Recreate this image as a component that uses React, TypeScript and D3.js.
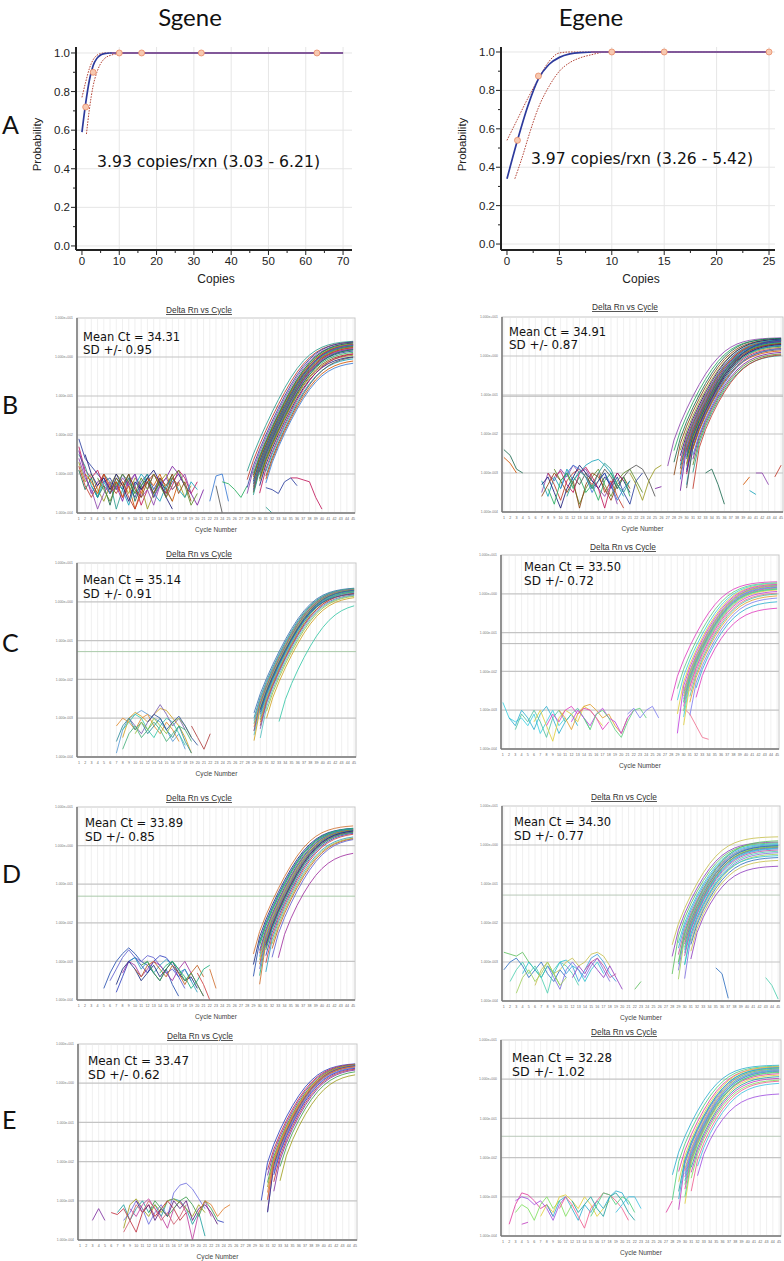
import React from "react";
import * as d3 from "d3";

const WIDTH = 784;
const HEIGHT = 1261;

// ---------------- Panel A data (probit / detection probability) ----------------
const sgeneHitCopies = [1, 3, 10, 16, 32, 63];
const sgeneHitRate = [0.72, 0.9, 1, 1, 1, 1];
const sgeneFit: [number, number][] = [[0, 0.59], [1, 0.74], [2, 0.86], [3, 0.935], [4, 0.972], [5, 0.99], [6, 0.997], [7.5, 1], [70, 1]];
const sgeneUpper: [number, number][] = [[0, 0.77], [1, 0.85], [2, 0.92], [3, 0.965], [4, 0.988], [5, 0.997], [6, 1], [70, 1]];
const sgeneLower: [number, number][] = [[1.2, 0.58], [2, 0.71], [3, 0.83], [4, 0.9], [5, 0.945], [6, 0.97], [8, 0.99], [10, 0.997], [13, 1], [70, 1]];
const sgeneXTicks = [0, 10, 20, 30, 40, 50, 60, 70];

const egeneHitCopies = [1, 3, 10, 15, 25];
const egeneHitRate = [0.54, 0.875, 1, 1, 1];
const egeneFit: [number, number][] = [[0, 0.34], [1, 0.54], [2, 0.72], [3, 0.86], [4, 0.935], [5, 0.972], [6, 0.99], [7, 0.997], [8.5, 1], [25, 1]];
const egeneUpper: [number, number][] = [[0, 0.54], [1, 0.65], [2, 0.76], [3, 0.86], [4, 0.95], [5, 0.995], [6, 1], [25, 1]];
const egeneLower: [number, number][] = [[0.75, 0.34], [1.5, 0.46], [2, 0.55], [3, 0.71], [4, 0.82], [5, 0.9], [6, 0.945], [7, 0.97], [8, 0.985], [9.5, 1], [25, 1]];
const egeneXTicks = [0, 5, 10, 15, 20, 25];

const probTicks = [0, 0.2, 0.4, 0.6, 0.8, 1.0];

// ---------------- Amplification plots ----------------
const cycles = d3.range(1, 46);
const decadeValues = [1e1, 1, 1e-1, 1e-2, 1e-3, 1e-4];
const decadeLabels = ["1.000e+001", "1.000e+000", "1.000e-001", "1.000e-002", "1.000e-003", "1.000e-004"];

// Ct (visual threshold crossing) and ΔRn reached at cycle 45 for each well
const bLeftCt = [32.4, 32.8, 33.1, 33.3, 33.5, 33.6, 33.7, 33.8, 33.9, 34.0, 34.0, 34.1, 34.2, 34.2, 34.3, 34.3, 34.4, 34.5, 34.5, 34.6, 34.7, 34.8, 34.9, 35.0, 35.2, 35.4, 35.6, 35.8, 36.0, 36.2];
const bLeftPlat = [2.4, 2.3, 2.35, 2.2, 2.1, 2.25, 2.0, 2.1, 1.9, 2.05, 1.8, 1.95, 1.7, 2.0, 1.6, 1.85, 1.5, 1.75, 1.4, 1.6, 1.3, 1.55, 1.2, 1.1, 1.0, 1.2, 0.9, 1.0, 0.8, 0.7];
const bRightCt = [31.0, 31.5, 31.9, 32.2, 32.5, 32.7, 32.9, 33.0, 33.1, 33.2, 33.3, 33.4, 33.5, 33.6, 33.6, 33.7, 33.8, 33.8, 33.9, 34.0, 34.1, 34.2, 34.3, 34.4, 34.5, 34.6, 34.8, 35.0, 35.2, 35.4, 35.6, 34.1];
const bRightPlat = [2.7, 2.6, 2.65, 2.5, 2.4, 2.55, 2.3, 2.45, 2.2, 2.35, 2.1, 2.3, 2.0, 2.4, 1.9, 2.2, 1.8, 2.1, 1.7, 2.0, 1.6, 1.9, 1.5, 1.8, 1.4, 1.3, 1.5, 1.2, 1.1, 1.0, 1.05, 2.5];
const cLeftCt = [33.0, 33.2, 33.3, 33.4, 33.5, 33.6, 33.6, 33.7, 33.8, 33.8, 33.9, 34.0, 34.0, 34.1, 34.2, 34.3, 34.4, 34.5, 34.6, 34.8, 35.0, 35.3, 33.9, 37.5];
const cLeftPlat = [2.15, 2.1, 2.05, 2.1, 2.0, 1.95, 2.05, 1.9, 2.0, 1.85, 1.95, 1.8, 1.9, 1.75, 1.7, 1.8, 1.6, 1.65, 1.5, 1.45, 1.4, 1.3, 1.55, 0.9];
const cRightCt = [31.2, 31.8, 32.2, 32.5, 32.7, 32.9, 33.0, 33.1, 33.2, 33.3, 33.4, 33.5, 33.6, 33.7, 33.8, 34.0, 34.2, 34.4, 34.7, 35.0, 35.5, 33.3];
const cRightPlat = [1.9, 1.8, 1.75, 1.7, 1.65, 1.6, 1.55, 1.5, 1.45, 1.4, 1.35, 1.3, 1.25, 1.2, 1.1, 1.0, 0.95, 0.85, 0.75, 0.6, 0.41, 1.25];
const dLeftCt = [32.4, 32.7, 32.9, 33.1, 33.3, 33.4, 33.5, 33.6, 33.7, 33.8, 33.9, 34.0, 34.0, 34.1, 34.2, 34.3, 34.5, 34.7, 34.9, 35.1, 35.3, 35.6, 33.0, 36.8];
const dLeftPlat = [3.1, 2.7, 2.65, 2.6, 2.55, 2.5, 2.6, 2.45, 2.5, 2.4, 2.45, 2.35, 2.3, 2.4, 2.25, 2.2, 2.1, 2.0, 1.7, 1.6, 1.55, 1.5, 2.7, 0.66];
const dRightCt = [31.0, 31.4, 31.7, 32.0, 32.2, 32.4, 32.6, 32.7, 32.8, 32.9, 33.0, 33.1, 33.2, 33.3, 33.4, 33.5, 33.7, 33.9, 34.1, 34.3, 34.6, 35.0, 32.5, 33.8];
const dRightPlat = [1.5, 1.1, 1.05, 1.0, 0.95, 0.9, 0.92, 0.88, 0.85, 0.9, 0.82, 0.8, 0.85, 0.78, 0.75, 0.7, 0.65, 0.6, 0.55, 0.45, 0.38, 0.27, 1.2, 0.5];
const eLeftCt = [32.2, 32.5, 32.7, 32.9, 33.0, 33.1, 33.2, 33.3, 33.3, 33.4, 33.5, 33.6, 33.7, 33.9, 34.1, 34.4, 34.9, 33.2];
const eLeftPlat = [3.0, 2.95, 2.9, 2.85, 2.9, 2.8, 2.75, 2.8, 2.7, 2.6, 2.65, 2.5, 2.4, 2.3, 2.2, 2.0, 1.7, 2.6];
const eRightCt = [30.0, 30.5, 30.9, 31.2, 31.4, 31.6, 31.8, 31.9, 32.0, 32.1, 32.2, 32.3, 32.4, 32.6, 32.8, 33.0, 33.2, 33.5, 33.8, 34.3, 31.5, 32.5];
const eRightPlat = [2.1, 2.0, 1.9, 1.95, 1.8, 1.7, 1.75, 1.6, 1.65, 1.5, 1.55, 1.4, 1.3, 1.2, 1.1, 1.0, 0.9, 0.85, 0.75, 0.4, 1.85, 1.45];

// Baseline noise traces: [first cycle, log10(ΔRn) values...]
const bLeftNoise = [
  [1, -2.1, -2.6, -2.8, -3.0, -3.2, -3.1, -3.4, -3.0, -3.3, -3.6, -3.2, -3.0, -3.4, -3.1, -3.5, -3.2, -3.0, -3.3],
  [1, -2.3, -2.9, -3.1, -2.9, -3.3, -3.5, -3.2, -3.6, -3.1, -3.3, -3.8, -3.4, -3.0, -3.2, -3.6, -3.3, -2.9, -3.1, -3.5, -3.2],
  [1, -2.5, -2.8, -3.3, -3.6, -3.0, -3.2, -3.9, -3.4, -3.1, -3.5, -3.3, -3.0, -3.6, -3.2, -3.4, -3.7],
  [1, -2.7, -3.2, -3.0, -3.4, -3.7, -3.3, -3.0, -3.2, -3.5, -3.1, -3.3, -3.9, -3.5, -3.2, -3.0, -3.4, -3.2, -3.6, -3.3],
  [1, -2.4, -3.0, -3.5, -3.2, -3.1, -3.5, -3.3, -3.7, -3.2, -3.0, -3.4, -3.2, -3.6, -3.3, -3.1, -2.8, -3.0, -3.3, -3.5, -3.8, -3.4],
  [1, -2.9, -3.4, -3.1, -3.6, -3.3, -3.8, -3.2, -3.4, -3.0, -3.7, -3.3, -3.1, -3.5, -3.2, -3.4, -3.0],
  [2, -3.0, -3.2, -3.5, -3.0, -3.4, -3.2, -3.6, -3.3, -3.9, -3.5, -3.1, -3.3, -3.0, -3.4, -3.7, -3.2],
  [1, -2.6, -3.1, -3.4, -3.9, -3.5, -3.2, -3.4, -3.1, -3.3, -3.0, -3.6, -3.4, -3.8, -3.3, -3.1, -3.4, -3.2, -3.0, -3.5],
  [3, -3.3, -3.6, -3.2, -3.5, -3.1, -3.4, -3.8, -3.3, -3.0, -3.2, -3.5, -3.7, -3.3, -3.1, -3.4, -3.6, -3.2, -3.4],
  [1, -2.8, -3.3, -3.6, -3.3, -3.0, -3.3, -3.5, -3.2, -3.6, -3.9, -3.4, -3.2, -3.0, -3.3, -3.5, -3.1, -3.3],
  [2, -2.5, -3.0, -3.3, -3.1, -3.4, -3.0, -3.3, -3.7, -3.2, -3.4, -3.1, -2.9, -3.2, -3.6, -3.9],
  [4, -3.1, -3.4, -3.7, -3.3, -3.0, -3.2, -3.5, -3.1, -3.4, -3.0, -3.3, -3.6, -3.1, -2.9, -3.3, -3.8, -3.5],
  [6, -3.5, -3.1, -3.3, -3.0, -3.4, -3.6, -3.2, -3.5, -3.1, -3.3, -3.0, -3.5, -3.2, -3.7],
  [22, -3.7, -3.05, -3.0, -3.7],
  [24, -3.2, -3.25, -3.4, -3.6, -3.3],
  [23, -3.3, -4.0],
  [31, -3.35, -3.4, -3.5, -3.2, -3.1, -3.3],
  [35, -3.1, -3.1, -3.15, -3.2, -3.6, -3.9],
  [31, -3.85, -4.0],
];
const bRightNoise = [
  [1, -2.4, -2.55, -2.9, -3.0],
  [1, -2.6, -2.75, -3.0],
  [7, -3.5, -3.0, -3.2, -2.9, -3.1, -2.8, -3.0, -2.9, -3.2, -3.4, -3.6, -3.3, -3.8],
  [7, -3.2, -3.6, -3.1, -3.4, -2.9, -3.2, -3.0, -2.8, -2.7, -2.65, -2.8, -3.0, -3.3, -3.6],
  [8, -3.0, -3.3, -3.7, -3.2, -3.0, -2.9, -3.1, -3.3, -3.0, -3.5, -3.2, -3.6, -3.9],
  [7, -3.3, -3.1, -3.5, -3.9, -3.4, -3.1, -2.8, -3.0, -3.2, -3.4, -3.1, -3.3, -3.0, -3.2, -3.5],
  [9, -2.9, -3.2, -3.0, -3.3, -3.8, -3.4, -3.1, -2.9, -3.3, -3.6, -3.2, -3.0, -2.9, -3.2, -3.5],
  [7, -3.6, -3.3, -3.0, -3.2, -3.5, -3.2, -3.9, -3.3, -3.0, -3.1, -3.4, -3.7, -3.3, -3.1, -3.4],
  [10, -3.4, -3.0, -2.8, -2.9, -3.1, -3.5, -3.2, -3.0, -3.3, -3.7, -3.4, -3.2],
  [8, -3.4, -3.8, -3.2, -3.0, -3.4, -3.1, -3.5, -3.3, -3.7, -3.2, -3.0, -3.4, -3.1, -3.6],
  [12, -3.1, -3.3, -3.0, -3.4, -3.2, -2.9, -3.1, -3.4, -3.1, -2.9, -2.8, -2.9, -3.2, -3.6],
  [16, -3.2, -3.0, -3.4, -3.1, -3.5, -3.8, -3.2, -3.0],
  [9, -3.1, -2.95, -3.3, -3.5, -3.0, -2.85, -3.1, -3.4, -3.9, -3.3, -3.0, -3.2],
  [11, -3.6, -3.2, -2.95, -3.1, -3.4, -3.0, -2.75, -2.9, -3.3, -3.5, -3.2],
  [21, -3.0, -3.3, -3.7, -3.2, -2.9, -2.8],
  [25, -3.4, -3.35],
  [33, -3.0, -2.9, -3.3, -3.8],
  [39, -3.3, -3.1],
  [41, -3.0, -3.0, -3.3],
  [40, -3.45, -3.55],
  [44, -3.1, -2.8],
];
const cLeftNoise = [
  [7, -3.9, -3.3, -3.0, -2.9, -2.8, -2.9, -3.0, -3.1, -3.3, -3.6, -3.4, -3.8],
  [8, -3.5, -3.0, -2.85, -2.95, -3.1, -2.9, -2.75, -2.8, -3.0, -3.2, -3.5, -3.9],
  [7, -3.2, -3.0, -3.1, -3.3, -3.0, -2.9, -3.2, -3.4, -3.1, -3.3, -3.6],
  [8, -3.3, -3.1, -2.9, -3.0, -3.3, -3.5, -3.2, -3.0, -3.1, -3.4, -3.7],
  [9, -3.0, -3.2, -3.4, -3.1, -2.9, -2.65, -2.9, -3.2, -3.0, -3.3],
  [7, -3.6, -3.2, -3.0, -3.3, -3.1, -3.4, -3.2, -3.0, -3.3, -3.5, -3.2, -3.6, -3.9],
  [10, -3.4, -3.1, -3.3, -3.0, -3.2, -3.4, -3.1, -3.0, -3.2, -3.5],
  [8, -3.8, -3.4, -3.2, -3.5, -3.3, -3.1, -3.3, -3.6, -3.4, -3.2, -3.3, -3.6],
  [12, -3.1, -2.9, -3.0, -3.3, -3.1, -2.95, -3.2, -3.5, -3.7],
  [19, -3.2, -3.5, -3.8, -3.4],
];
const cRightNoise = [
  [1, -2.8, -3.2, -3.3, -3.2, -3.4, -3.1, -3.6, -3.3, -3.0, -3.4, -3.2],
  [2, -3.2, -3.4, -3.0, -3.2, -3.5, -3.1, -2.9, -3.2, -3.6, -3.3, -3.1, -3.4],
  [3, -3.5, -3.1, -3.3, -3.0, -3.3, -3.7, -3.2, -3.0, -3.3, -3.1, -2.95, -3.2, -3.5],
  [6, -3.3, -3.0, -3.4, -3.8, -3.2, -3.0, -3.1, -3.3, -2.9, -3.0, -3.2, -3.4],
  [8, -3.4, -3.1, -3.3, -3.0, -2.9, -3.1, -2.95, -3.0, -3.2, -3.5, -3.3],
  [10, -3.0, -3.2, -3.5, -3.1, -2.9, -2.85, -3.0, -3.2, -3.1, -3.4, -3.6, -3.2],
  [12, -3.3, -3.0, -3.2, -3.4, -3.1, -2.95, -3.2, -3.3, -3.6, -3.2, -3.0],
  [14, -3.2, -3.5, -3.1, -3.0, -3.2, -3.5, -3.7, -3.3, -3.0, -2.95, -3.2],
  [21, -3.1, -2.95, -3.2, -3.0, -2.9, -3.2],
  [30, -2.95, -3.1, -3.4, -3.7, -3.75],
];
const dLeftNoise = [
  [5, -3.7, -3.3, -3.0, -2.8, -2.65, -2.8, -3.0, -3.1, -3.3, -3.5, -3.2, -3.6, -3.9],
  [6, -3.5, -3.2, -2.9, -2.7, -2.9, -3.0, -2.85, -2.9, -3.1, -3.3, -3.2, -3.4, -3.7],
  [7, -3.8, -3.4, -3.0, -2.9, -3.1, -3.3, -3.0, -2.85, -2.9, -3.1, -3.4, -3.2, -3.5],
  [8, -3.3, -3.0, -3.1, -3.4, -3.2, -3.0, -3.1, -3.3, -3.5, -3.2, -3.0, -3.3, -3.6, -3.9],
  [9, -3.0, -2.9, -3.2, -3.0, -3.3, -3.1, -2.95, -3.1, -3.3, -3.2, -3.5, -3.8],
  [7, -3.6, -3.2, -3.0, -3.2, -3.5, -3.3, -3.1, -3.4, -3.2, -3.0, -3.3, -3.5, -3.4, -3.7],
  [10, -3.2, -3.4, -3.1, -3.0, -3.2, -3.4, -3.1, -3.3, -3.6, -3.3, -3.1, -3.4],
  [11, -3.1, -3.0, -3.3, -3.5, -3.2, -3.0, -3.2, -3.5, -3.3, -3.6, -3.9],
  [14, -3.3, -3.1, -3.0, -3.2, -3.4, -3.7, -3.5, -3.2, -3.1],
  [20, -3.3, -3.6, -4.0],
  [22, -3.2, -3.7],
];
const dRightNoise = [
  [1, -2.75, -2.8, -2.85, -2.75, -3.0, -3.2, -3.4, -3.1, -3.3, -3.6],
  [1, -3.2, -3.0, -2.9, -3.1, -3.4, -3.2, -3.0, -3.3, -3.5, -3.2, -3.4],
  [2, -3.5, -3.2, -3.0, -3.3, -3.1, -3.4, -3.8, -3.2, -3.0, -3.1, -3.3, -3.6],
  [4, -3.3, -3.0, -3.2, -3.4, -3.1, -3.3, -3.0, -2.95, -3.1, -3.2, -3.5, -3.2, -3.0, -3.3],
  [6, -3.6, -3.2, -3.0, -3.3, -3.2, -3.0, -2.9, -3.1, -3.0, -2.8, -2.75, -2.85, -3.1],
  [8, -3.1, -3.4, -3.7, -3.2, -3.0, -3.2, -3.4, -3.1, -2.9, -3.2, -3.5],
  [10, -3.0, -3.3, -3.1, -3.5, -3.2, -2.9, -2.8, -3.0, -3.3, -3.5],
  [12, -3.4, -3.1, -3.3, -3.0, -3.2, -3.4, -3.1, -3.4, -3.7],
  [3, -3.8, -3.4, -3.2, -3.5, -3.3, -3.0, -3.3, -3.6, -3.4],
  [14, -3.2, -3.0, -2.9, -3.1, -3.4, -3.3],
  [22, -3.7, -3.5],
  [35, -3.15, -3.3, -3.93],
  [43, -3.4, -3.6, -3.95],
];
const eLeftNoise = [
  [3, -3.5, -3.2, -3.5],
  [7, -3.3, -3.1, -3.5, -3.2, -3.0, -3.3, -3.1, -3.4, -3.0, -2.95, -3.0, -3.2, -3.6, -3.3, -3.9],
  [8, -3.7, -3.1, -2.95, -3.2, -3.4, -3.1, -3.3, -3.0, -2.95, -3.05, -3.2, -3.4, -3.1, -3.3],
  [8, -3.5, -3.3, -3.0, -3.2, -3.6, -3.3, -3.1, -3.4, -2.8, -2.6, -2.55, -2.7, -2.95, -3.2],
  [9, -3.2, -3.4, -3.1, -2.95, -3.2, -3.4, -3.7, -3.2, -3.0, -3.3, -4.0, -3.3, -3.0, -3.4],
  [6, -3.3, -3.35, -3.2, -3.5, -3.8, -3.3, -3.1, -3.4, -3.2, -3.0, -3.2, -3.5, -3.3],
  [10, -3.0, -3.3, -3.1, -3.5, -3.2, -3.4, -3.0, -3.2, -3.0, -3.5, -3.2, -3.1, -3.3, -3.6],
  [12, -3.3, -3.0, -3.2, -3.4, -3.2, -3.0, -2.9, -3.1, -3.4, -3.0, -3.2, -3.5],
  [8, -3.8, -3.5, -3.1, -3.3, -3.0, -3.2, -3.5, -3.3, -3.6, -3.4, -3.1],
  [20, -3.3, -3.0, -3.1, -3.4, -3.2, -3.1],
  [23, -3.5, -3.55],
];
const eRightNoise = [
  [2, -3.7, -3.2, -2.9, -2.95, -3.1, -3.3, -3.2, -3.5],
  [3, -3.1, -3.0, -3.05, -3.2, -3.1, -3.3, -3.6, -3.2, -3.0],
  [3, -3.4, -3.2, -3.3, -3.6, -3.2, -3.0, -3.3, -3.1, -3.5, -3.2],
  [7, -3.5, -3.2, -3.4, -3.0, -2.95, -3.1, -3.3, -3.0, -3.2, -3.5, -3.3, -3.1],
  [8, -3.2, -3.5, -3.1, -3.0, -3.3, -3.6, -3.2, -3.4, -3.1, -3.3, -3.0, -2.85, -2.9, -3.2],
  [10, -3.3, -3.0, -3.2, -3.5, -3.8, -3.3, -3.1, -2.9, -2.95, -3.1, -3.3, -3.6],
  [12, -3.1, -3.4, -3.2, -3.0, -3.3, -3.5, -3.0, -2.9, -3.1, -3.4, -3.6],
  [15, -3.5, -3.2, -2.9, -2.95, -3.2, -3.0, -3.1, -3.4],
  [19, -3.4, -3.2, -3.0, -3.0, -3.3],
  [4, -3.7, -3.65],
  [27, -3.4, -3.1],
];

// Colour sets per panel
const vividColors = ["#2a9d8f", "#c0392b", "#2c3e9e", "#8e44ad", "#27ae60", "#1e6b52", "#8b4513", "#9a9a20", "#1a1a7a", "#c2185b", "#17a2b8", "#555555", "#d35400", "#3a7bd5", "#7b1fa2", "#5d8c2a"];
const cLeftColors = ["#3a6fb0", "#2e8b9a", "#5a9bd4", "#46b07a", "#e08a2e", "#b04040", "#7a5fb0", "#55c0c0", "#9ac040", "#d0a020", "#335599", "#38c8a8"];
const cRightColors = ["#e040c0", "#60d080", "#40d0e0", "#e0d040", "#c040e0", "#f07090", "#50c0a0", "#e0a030", "#8080f0", "#30b0d0"];
const dLeftColors = ["#d07030", "#1a2a80", "#2850b0", "#40a040", "#3040c0", "#d04040", "#30a0c0", "#a0c040", "#c06020", "#6060d0", "#20b080", "#a030a0"];
const dRightColors = ["#c8c050", "#9040c0", "#60c060", "#30c0d0", "#40a0e0", "#c050a0", "#50d0b0", "#8070e0", "#a0d060", "#3070c0"];
const eLeftColors = ["#3040c0", "#c03040", "#8030a0", "#40a050", "#a0a020", "#e08030", "#c040a0", "#2080c0", "#602080", "#20a0a0", "#d06070", "#7070e0"];
const eRightColors = ["#30b0d0", "#50d080", "#e040a0", "#e0d040", "#20a0a0", "#c040c0", "#80e060", "#f06090", "#40c0e0", "#a050e0"];

type AmpCfg = {
  id: string;
  x0: number; x1: number; y0: number; y1: number;
  titleX: number; titleY: number;
  textX: number; textY: number; textY2: number; meanW: number; sdW: number;
  mean: string; sd: string;
  ct: number[]; plat: number[]; noise: number[][];
  colors: string[];
  threshold: number; thrColor: string;
  offset: number;
};

// Richards growth curve shape shared by all wells
const GROWTH_S = 2.2;
const GROWTH_NU = 0.55;
const START_LEVEL = Math.pow(10, -3.6);

const ampPanels: AmpCfg[] = [
  { id: "bl", x0: 77, x1: 355, y0: 318, y1: 513, titleX: 199, titleY: 313, textX: 83, textY: 341, textY2: 354, meanW: 97, sdW: 69,
    mean: "Mean Ct = 34.31", sd: "SD +/- 0.95", ct: bLeftCt, plat: bLeftPlat, noise: bLeftNoise, colors: vividColors,
    threshold: 0.052, thrColor: "#b8b8b8", offset: 0.0005 },
  { id: "br", x0: 502, x1: 783, y0: 317, y1: 512, titleX: 625, titleY: 310, textX: 509, textY: 336, textY2: 349, meanW: 97, sdW: 69,
    mean: "Mean Ct = 34.91", sd: "SD +/- 0.87", ct: bRightCt, plat: bRightPlat, noise: bRightNoise, colors: vividColors.slice(3).concat(vividColors.slice(0, 3)),
    threshold: 0.093, thrColor: "#b8b8b8", offset: 0.003 },
  { id: "cl", x0: 77, x1: 356, y0: 563, y1: 757, titleX: 199, titleY: 557, textX: 83, textY: 584, textY2: 598, meanW: 98, sdW: 69,
    mean: "Mean Ct = 35.14", sd: "SD +/- 0.91", ct: cLeftCt, plat: cLeftPlat, noise: cLeftNoise, colors: cLeftColors,
    threshold: 0.052, thrColor: "#a9c9a9", offset: 0.001 },
  { id: "cr", x0: 501, x1: 779, y0: 555, y1: 749, titleX: 623, titleY: 550, textX: 524, textY: 571, textY2: 585, meanW: 97, sdW: 70,
    mean: "Mean Ct = 33.50", sd: "SD +/- 0.72", ct: cRightCt, plat: cRightPlat, noise: cRightNoise, colors: cRightColors,
    threshold: 0.052, thrColor: "#b8b8b8", offset: 0.003 },
  { id: "dl", x0: 77, x1: 355, y0: 807, y1: 1000, titleX: 199, titleY: 801, textX: 85, textY: 827, textY2: 841, meanW: 98, sdW: 70,
    mean: "Mean Ct = 33.89", sd: "SD +/- 0.85", ct: dLeftCt, plat: dLeftPlat, noise: dLeftNoise, colors: dLeftColors,
    threshold: 0.049, thrColor: "#a9c9a9", offset: 0.002 },
  { id: "dr", x0: 502, x1: 780, y0: 806, y1: 1001, titleX: 624, titleY: 800, textX: 514, textY: 826, textY2: 840, meanW: 97, sdW: 70,
    mean: "Mean Ct = 34.30", sd: "SD +/- 0.77", ct: dRightCt, plat: dRightPlat, noise: dRightNoise, colors: dRightColors,
    threshold: 0.052, thrColor: "#b8c8b8", offset: 0.003 },
  { id: "el", x0: 78, x1: 357, y0: 1044, y1: 1240, titleX: 200, titleY: 1039, textX: 88, textY: 1065, textY2: 1079, meanW: 101, sdW: 72,
    mean: "Mean Ct = 33.47", sd: "SD +/- 0.62", ct: eLeftCt, plat: eLeftPlat, noise: eLeftNoise, colors: eLeftColors,
    threshold: 0.033, thrColor: "#b8b8b8", offset: 0.006 },
  { id: "er", x0: 501, x1: 781, y0: 1040, y1: 1236, titleX: 624, titleY: 1035, textX: 512, textY: 1062, textY2: 1076, meanW: 100, sdW: 73,
    mean: "Mean Ct = 32.28", sd: "SD +/- 1.02", ct: eRightCt, plat: eRightPlat, noise: eRightNoise, colors: eRightColors,
    threshold: 0.035, thrColor: "#b8c8b8", offset: 0.005 },
];

function wellCurve(ct: number, endValue: number, threshold: number, dl: number): [number, number][] {
  const s = GROWTH_S;
  const nu = GROWTH_NU;
  const P = endValue * 1.1;
  const c0 = ct + s * Math.log((Math.pow(P / (threshold + dl), nu) - 1) / nu);
  const pts: [number, number][] = [];
  let started = false;
  for (const c of cycles) {
    const L = P * Math.pow(1 + nu * Math.exp(-(c - c0) / s), -1 / nu);
    const v = L - dl;
    if (!started && v >= START_LEVEL) started = true;
    if (started) pts.push([c, v]);
  }
  return pts;
}

function AmpPanel({ cfg }: { cfg: AmpCfg }) {
  const x = d3.scaleLinear().domain([0.7, 45.3]).range([cfg.x0, cfg.x1]);
  const y = d3.scaleLog().domain([1e-4, 1e1]).range([cfg.y1, cfg.y0]);
  const line = d3
    .line<[number, number]>()
    .x((d) => x(d[0]))
    .y((d) => y(Math.max(d[1], 1e-7)));

  const curves = cfg.ct.map((ct, i) => wellCurve(ct, cfg.plat[i], cfg.threshold, cfg.offset));
  const noise = cfg.noise.map((tr) => {
    const start = tr[0];
    return tr.slice(1).map((lv, k) => [start + k, Math.pow(10, lv)] as [number, number]);
  });

  const clipId = `clip-${cfg.id}`;
  const nC = cfg.colors.length;
  const font = "Liberation Sans, Arial, sans-serif";
  return (
    <g>
      <defs>
        <clipPath id={clipId}>
          <rect x={cfg.x0} y={cfg.y0} width={cfg.x1 - cfg.x0} height={cfg.y1 - cfg.y0} />
        </clipPath>
      </defs>
      <rect x={cfg.x0} y={cfg.y0} width={cfg.x1 - cfg.x0} height={cfg.y1 - cfg.y0} fill="#fff" stroke="#c8c8c8" strokeWidth={1} />
      {cycles.map((c) => (
        <line key={`v${c}`} x1={x(c)} x2={x(c)} y1={cfg.y0} y2={cfg.y1} stroke="#e6e6e6" strokeWidth={0.6} />
      ))}
      {decadeValues.slice(1, 5).map((v) => (
        <line key={`h${v}`} x1={cfg.x0} x2={cfg.x1} y1={y(v)} y2={y(v)} stroke="#c4c4c4" strokeWidth={1.2} />
      ))}
      <line x1={cfg.x0} x2={cfg.x1} y1={y(cfg.threshold)} y2={y(cfg.threshold)} stroke={cfg.thrColor} strokeWidth={1} />
      <g clipPath={`url(#${clipId})`} fill="none" strokeWidth={0.85}>
        {noise.map((pts, i) => (
          <path key={`n${i}`} d={line(pts) || ""} stroke={cfg.colors[(i * 7 + 2) % nC]} />
        ))}
        {curves.map((pts, i) => (
          <path key={`c${i}`} d={line(pts) || ""} stroke={cfg.colors[i % nC]} />
        ))}
      </g>
      <line x1={cfg.x0} x2={cfg.x0} y1={cfg.y0} y2={cfg.y1} stroke="#777" strokeWidth={1.5} />
      <line x1={cfg.x0} x2={cfg.x1} y1={cfg.y1} y2={cfg.y1} stroke="#777" strokeWidth={1.5} />
      {decadeValues.map((v, i) => (
        <text key={`yl${i}`} x={cfg.x0 - 4} y={y(v) + 1.2} fontSize={3.4} textAnchor="end" fill="#777" fontFamily={font}>
          {decadeLabels[i]}
        </text>
      ))}
      {cycles.map((c) => (
        <text key={`xl${c}`} x={x(c)} y={cfg.y1 + 6.5} fontSize={3.6} textAnchor="middle" fill="#666" fontFamily={font}>
          {c}
        </text>
      ))}
      <text x={(cfg.x0 + cfg.x1) / 2} y={cfg.y1 + 19} fontSize={6.6} textAnchor="middle" fill="#444" fontFamily={font}>
        Cycle Number
      </text>
      <text x={cfg.titleX} y={cfg.titleY} fontSize={8.3} textAnchor="middle" fill="#333" textDecoration="underline" fontFamily={font}>
        Delta Rn vs Cycle
      </text>
      <text x={cfg.textX} y={cfg.textY} fontSize={12} fill="#111" fontFamily="DejaVu Sans, Verdana, sans-serif" textLength={cfg.meanW} lengthAdjust="spacingAndGlyphs">
        {cfg.mean}
      </text>
      <text x={cfg.textX} y={cfg.textY2} fontSize={12} fill="#111" fontFamily="DejaVu Sans, Verdana, sans-serif" textLength={cfg.sdW} lengthAdjust="spacingAndGlyphs">
        {cfg.sd}
      </text>
    </g>
  );
}

type ProbCfg = {
  x0: number; x1: number; y0: number; y1: number;
  xDomain: [number, number]; yDomain: [number, number];
  xTicks: number[]; xMinorStep: number;
  hitX: number[]; hitY: number[];
  fit: [number, number][]; upper: [number, number][]; lower: [number, number][];
  label: string; labelX: number; labelY: number; labelW: number;
  probX: number; copiesX: number;
};

const probPanels: ProbCfg[] = [
  { x0: 76, x1: 352, y0: 47, y1: 250, xDomain: [-1.6, 72.4], yDomain: [-0.021, 1.031], xTicks: sgeneXTicks, xMinorStep: 5,
    hitX: sgeneHitCopies, hitY: sgeneHitRate, fit: sgeneFit, upper: sgeneUpper, lower: sgeneLower,
    label: "3.93 copies/rxn (3.03 - 6.21)", labelX: 97, labelY: 167, labelW: 223, probX: 41, copiesX: 216 },
  { x0: 501, x1: 775, y0: 47, y1: 250, xDomain: [-0.57, 25.57], yDomain: [-0.031, 1.026], xTicks: egeneXTicks, xMinorStep: 2.5,
    hitX: egeneHitCopies, hitY: egeneHitRate, fit: egeneFit, upper: egeneUpper, lower: egeneLower,
    label: "3.97 copies/rxn (3.26 - 5.42)", labelX: 531, labelY: 164, labelW: 222, probX: 466, copiesX: 641 },
];

function ProbPanel({ cfg }: { cfg: ProbCfg }) {
  const x = d3.scaleLinear().domain(cfg.xDomain).range([cfg.x0, cfg.x1]);
  const y = d3.scaleLinear().domain(cfg.yDomain).range([cfg.y1, cfg.y0]);
  const line = d3
    .line<[number, number]>()
    .x((d) => x(d[0]))
    .y((d) => y(d[1]))
    .curve(d3.curveMonotoneX);
  const xMax = cfg.xTicks[cfg.xTicks.length - 1];
  const xMinor = d3.range(cfg.xMinorStep, xMax, cfg.xMinorStep * 2);
  const yMinor = [0.1, 0.3, 0.5, 0.7, 0.9];
  const font = "Liberation Sans, Arial, sans-serif";
  return (
    <g>
      {cfg.xTicks.slice(1).map((t) => (
        <line key={`gx${t}`} x1={x(t)} x2={x(t)} y1={cfg.y0} y2={cfg.y1} stroke="#e6e6e6" strokeWidth={1} />
      ))}
      {probTicks.map((t) => (
        <line key={`gy${t}`} x1={cfg.x0} x2={cfg.x1} y1={y(t)} y2={y(t)} stroke="#e6e6e6" strokeWidth={1} />
      ))}
      <path d={line(cfg.upper) || ""} fill="none" stroke="#b5473a" strokeWidth={1} strokeDasharray="1.6,1.2" />
      <path d={line(cfg.lower) || ""} fill="none" stroke="#b5473a" strokeWidth={1} strokeDasharray="1.6,1.2" />
      <path d={line(cfg.fit) || ""} fill="none" stroke="#2d3a9c" strokeWidth={1.7} />
      <line x1={x(8)} x2={x(xMax)} y1={y(1)} y2={y(1)} stroke="#8a5a9a" strokeWidth={1.8} opacity={0.85} />
      {cfg.hitX.map((h, i) => (
        <circle key={`p${i}`} cx={x(h)} cy={y(cfg.hitY[i])} r={3} fill="#f7c8b0" stroke="#e88c66" strokeWidth={0.8} />
      ))}
      <line x1={cfg.x0} x2={cfg.x0} y1={cfg.y0} y2={cfg.y1} stroke="#222" strokeWidth={2} />
      <line x1={cfg.x0} x2={cfg.x1} y1={cfg.y1} y2={cfg.y1} stroke="#222" strokeWidth={2} />
      {probTicks.map((t) => (
        <g key={`ty${t}`}>
          <line x1={cfg.x0 - 5} x2={cfg.x0} y1={y(t)} y2={y(t)} stroke="#222" strokeWidth={1} />
          <text x={cfg.x0 - 6} y={y(t) + 4} fontSize={11.5} textAnchor="end" fill="#222" fontFamily={font}>
            {t.toFixed(1)}
          </text>
        </g>
      ))}
      {yMinor.map((t) => (
        <line key={`my${t}`} x1={cfg.x0 - 3} x2={cfg.x0} y1={y(t)} y2={y(t)} stroke="#222" strokeWidth={1} />
      ))}
      {cfg.xTicks.map((t) => (
        <g key={`tx${t}`}>
          <line x1={x(t)} x2={x(t)} y1={cfg.y1} y2={cfg.y1 + 5} stroke="#222" strokeWidth={1} />
          <text x={x(t)} y={cfg.y1 + 15} fontSize={11.5} textAnchor="middle" fill="#222" fontFamily={font}>
            {t}
          </text>
        </g>
      ))}
      {xMinor.map((t) => (
        <line key={`mx${t}`} x1={x(t)} x2={x(t)} y1={cfg.y1} y2={cfg.y1 + 3} stroke="#222" strokeWidth={1} />
      ))}
      <text x={cfg.copiesX} y={cfg.y1 + 33} fontSize={12} textAnchor="middle" fill="#222" fontFamily={font}>
        Copies
      </text>
      <text transform={`translate(${cfg.probX},${(cfg.y0 + cfg.y1) / 2 - 4}) rotate(-90)`} fontSize={11.5} textAnchor="middle" fill="#222" fontFamily={font}>
        Probability
      </text>
      <text x={cfg.labelX} y={cfg.labelY} fontSize={15.5} fill="#111" fontFamily="DejaVu Sans, Verdana, sans-serif" textLength={cfg.labelW} lengthAdjust="spacingAndGlyphs">
        {cfg.label}
      </text>
    </g>
  );
}

const geneTitles = [
  { text: "Sgene", x: 190, y: 26 },
  { text: "Egene", x: 591, y: 26 },
];
const rowLetters = [
  { text: "A", y: 134 },
  { text: "B", y: 414 },
  { text: "C", y: 652 },
  { text: "D", y: 883 },
  { text: "E", y: 1129 },
];

export default function App() {
  return (
    <svg
      width={WIDTH}
      height={HEIGHT}
      viewBox={`0 0 ${WIDTH} ${HEIGHT}`}
      style={{ position: "absolute", left: 0, top: 0, background: "#fff", display: "block" }}
    >
      <rect x={0} y={0} width={WIDTH} height={HEIGHT} fill="#fff" />
      {geneTitles.map((g) => (
        <text key={g.text} x={g.x} y={g.y} fontSize={24} textAnchor="middle" fill="#111" fontFamily="Lato, Open Sans, sans-serif">
          {g.text}
        </text>
      ))}
      {rowLetters.map((l) => (
        <text key={l.text} x={2} y={l.y} fontSize={25} fill="#111" fontFamily="Lato, Open Sans, sans-serif">
          {l.text}
        </text>
      ))}
      {probPanels.map((p, i) => (
        <ProbPanel key={`prob${i}`} cfg={p} />
      ))}
      {ampPanels.map((p) => (
        <AmpPanel key={p.id} cfg={p} />
      ))}
    </svg>
  );
}
